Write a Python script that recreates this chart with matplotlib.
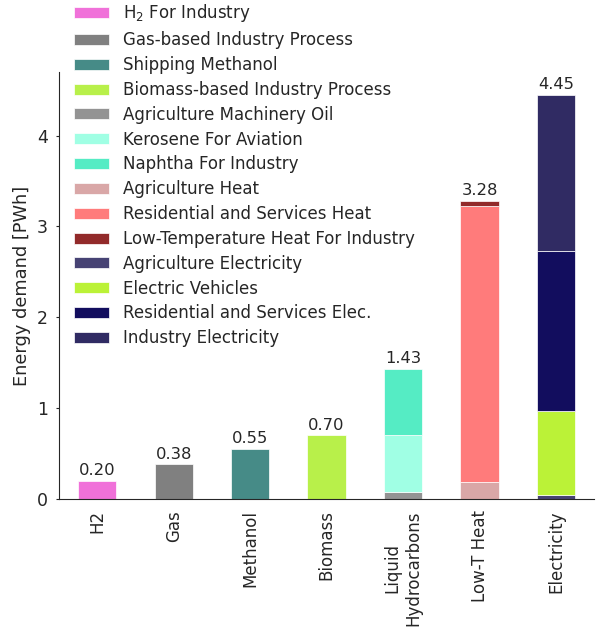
import matplotlib
matplotlib.use("Agg")
import matplotlib.pyplot as plt
import seaborn as sns

sns.set_style("ticks")
plt.rcParams['font.family'] = ['DejaVu Sans']

categories = ["H2", "Gas", "Methanol", "Biomass", "Liquid\nHydrocarbons", "Low-T Heat", "Electricity"]

# (series label, category index, value, color)
series_labels = ["H$_2$ For Industry", "Gas-based Industry Process", "Shipping Methanol",
                 "Biomass-based Industry Process", "Agriculture Machinery Oil", "Kerosene For Aviation",
                 "Naphtha For Industry", "Agriculture Heat", "Residential and Services Heat",
                 "Low-Temperature Heat For Industry", "Agriculture Electricity", "Electric Vehicles",
                 "Residential and Services Elec.", "Industry Electricity"]
series_category = [0, 1, 2, 3, 4, 4, 4, 5, 5, 5, 6, 6, 6, 6]
series_values = [0.20, 0.38, 0.55, 0.70, 0.08, 0.62, 0.73, 0.19, 3.04, 0.05, 0.04, 0.93, 1.76, 1.72]
series_colors = ["#f071d9", "#808080", "#468b87", "#b8f04a", "#939393", "#a0ffe4", "#55ecc4",
                 "#d9a7a7", "#ff7b7b", "#922a2a", "#474374", "#bbf237", "#120d5e", "#302b63"]
totals = [0.20, 0.38, 0.55, 0.70, 1.43, 3.28, 4.45]

fig = plt.figure(figsize=(5.99, 6.29), dpi=100)
ax = fig.add_axes([0.0985, 0.2067, 0.8935, 0.6788])

bottoms = [0.0] * len(categories)
handles = []
for lab, ci, v, c in zip(series_labels, series_category, series_values, series_colors):
    b = ax.bar(ci, v, bottom=bottoms[ci], width=0.5, color=c, edgecolor="white",
               linewidth=0.5, label=lab)
    bottoms[ci] += v
    handles.append(b)

for i, t in enumerate(totals):
    ax.text(i, t + 0.03, f"{t:.2f}", ha="center", va="bottom", fontsize=11.8, color="#262626")

ax.set_xticks(range(len(categories)))
ax.set_xticklabels(categories, rotation=90, fontsize=12, multialignment="center")
ax.set_xlim(-0.5, 6.5)
ax.set_ylim(0, 4.7)
ax.set_yticks([0, 1, 2, 3, 4])
ax.tick_params(axis="y", labelsize=12.5, length=2, pad=6)
ax.tick_params(axis="x", length=0, pad=8)
ax.set_ylabel("Energy demand [PWh]", fontsize=12.8)
sns.despine(ax=ax)

fig.legend(handles=handles, loc="upper left", bbox_to_anchor=(0.099, 1.02), frameon=False,
           fontsize=12, handlelength=2.1, handleheight=0.65, labelspacing=0.41, handletextpad=0.8)

fig.savefig("out.png", dpi=100)
